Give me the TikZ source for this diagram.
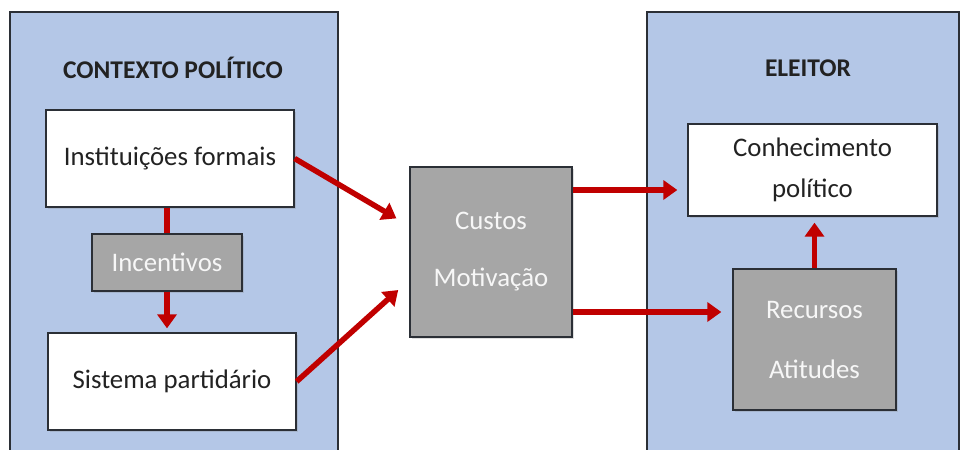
\documentclass[tikz,border=0pt]{standalone}
\usepackage{fontspec}
\setmainfont{Carlito}
\usetikzlibrary{arrows.meta,shadows,calc}
\definecolor{panelblue}{HTML}{B4C7E7}
\definecolor{edgedark}{HTML}{2B2F36}
\definecolor{boxgray}{HTML}{A6A6A6}
\definecolor{arrred}{HTML}{C00000}
\definecolor{txtdark}{HTML}{222222}
\definecolor{txtlight}{HTML}{F7F7F7}
\tikzset{
  panel/.style={draw=edgedark, line width=1.3pt, fill=panelblue},
  whitebox/.style={draw=edgedark, line width=1.3pt, fill=white, inner sep=0pt,
    font=\fontsize{26.8}{41}\selectfont, text=txtdark, align=center,
    drop shadow={opacity=0.25, shadow xshift=2pt, shadow yshift=-2pt}},
  graybox/.style={draw=edgedark, line width=1.3pt, fill=boxgray, inner sep=0pt,
    font=\fontsize{26.8}{41}\selectfont, text=txtlight, align=center,
    drop shadow={opacity=0.25, shadow xshift=2pt, shadow yshift=-2pt}},
  paneltitle/.style={font=\fontsize{25.5}{30}\selectfont\bfseries, text=txtdark},
  arr/.style={draw=arrred, line width=5.5pt, -{Triangle[length=14pt,width=19pt]}},
  plainline/.style={draw=arrred, line width=5.5pt}
}
\begin{document}
\begin{tikzpicture}[x=1pt,y=-1pt]
\useasboundingbox (0,0) rectangle (962,450);
\clip (0,0) rectangle (962,450);
% panels
\draw[panel] (10,12) rectangle (338,470);
\draw[panel] (647,12) rectangle (959,470);
\node[paneltitle] (titleL) at (173,68) {CONTEXTO POLÍTICO};
\node[paneltitle] (titleR) at (808,68) {ELEITOR};
% left boxes
\node[whitebox, minimum width=248pt, minimum height=97pt] (inst) at (170,158.5) {Instituições formais};
\node[graybox, minimum width=150pt, minimum height=57pt] (inc) at (167,262.5) {Incentivos};
\node[whitebox, minimum width=248pt, minimum height=97pt] (sist) at (172,381.5) {Sistema partidário};
% middle
\node[graybox, minimum width=162pt, minimum height=170pt] (mid) at (491,252) {Custos\\[16pt]Motivação};
% right
\node[whitebox, minimum width=249pt, minimum height=92pt] (conh) at (812.5,170) {Conhecimento\\político};
\node[graybox, minimum width=163pt, minimum height=141pt] (rec) at (814.5,339.5) {Recursos\\[19pt]Atitudes};
% connectors
\draw[plainline] (inc.north |- inst.south) -- (inc.north);
\draw[arr, shorten >=4pt] (inc.south) -- (inc.south |- sist.north);
\draw[arr, shorten >=15pt] (inst.east) -- ([yshift=26pt]mid.west);
\draw[arr, shorten >=15pt] (sist.east) -- ([yshift=-28pt]mid.west);
\draw[arr, shorten >=10pt] ([yshift=62pt]mid.east) -- ([yshift=62pt]mid.east -| conh.west);
\draw[arr, shorten >=11pt] ([yshift=-60pt]mid.east) -- ([yshift=-60pt]mid.east -| rec.west);
\draw[arr, shorten >=6pt] (rec.north) -- (rec.north |- conh.south);
\end{tikzpicture}
\end{document}
